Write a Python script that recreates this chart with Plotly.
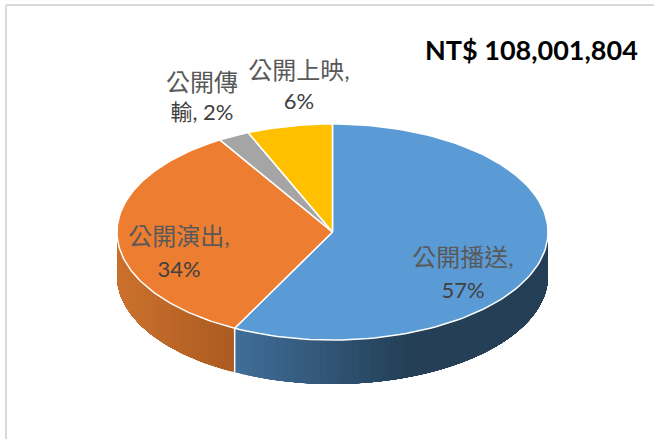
import numpy as np
import plotly.graph_objects as go

# --- data ---
categories = ["公開播送", "公開演出", "公開傳輸", "公開上映"]
shares = [57.5, 33.75, 2.35, 6.4]        # slice sweep, estimated from the drawn angles
shown_percent = [57, 34, 2, 6]           # percentages printed on the labels
total_text = "NT$ 108,001,804"

# --- styles and layout ---
top_colors = ["#5B9BD5", "#ED7D31", "#A5A5A5", "#FFC000"]
wall_ramps = {0: ((0x40, 0x6E, 0x98), (0x24, 0x3F, 0x56), 0.55),
              1: ((0xCC, 0x72, 0x2E), (0xAC, 0x5B, 0x22), 1.0)}
W, H = 654, 439
CX, CY, RX, RY, DEPTH = 332.5, 232.0, 215.5, 108.0, 44.0
CJK_GREY, NUM_GREY = "#595959", "#404040"
CJK_SIZE, NUM_SIZE = 24, 22
FONT = "Lato, 'Noto Sans CJK TC', sans-serif"
label_lines = [
    (f"{categories[0]},", 463, 260, CJK_GREY, CJK_SIZE), (f"{shown_percent[0]}%", 463, 292, NUM_GREY, NUM_SIZE),
    (f"{categories[1]},", 179, 239, CJK_GREY, CJK_SIZE), (f"{shown_percent[1]}%", 179, 271, NUM_GREY, NUM_SIZE),
    (categories[2][:3], 202, 85, CJK_GREY, CJK_SIZE), (f"{categories[2][3]}, {shown_percent[2]}%", 202, 114, NUM_GREY, NUM_SIZE),
    (f"{categories[3]},", 299, 73, CJK_GREY, CJK_SIZE), (f"{shown_percent[3]}%", 299, 103, NUM_GREY, NUM_SIZE),
]


def rim(a0, a1, n=120):
    t = np.radians(np.linspace(a0, a1, n))
    return CX + RX * np.sin(t), CY - RY * np.cos(t)


fig = go.Figure()


def poly(x, y, fill, line=None, width=0.0):
    fig.add_trace(go.Scatter(
        x=list(x), y=list(y), mode="lines", fill="toself", fillcolor=fill,
        line=dict(color=line or fill, width=width), hoverinfo="skip", showlegend=False))


edges = np.concatenate([[0], np.cumsum(shares)]) / np.sum(shares) * 360

# side wall: painted as overlapping bands so no seams show between the colour steps
for i, (c0, c1, stop) in wall_ramps.items():
    a0, a1 = max(edges[i], 90), min(edges[i + 1], 270)
    steps = np.linspace(a0, a1, 70)
    lo, hi = sorted((CX + RX * np.sin(np.radians(a0)), CX + RX * np.sin(np.radians(a1))))
    order = steps[::-1] if i == 0 else steps
    for s in order[:-1]:
        xr, yr = rim(a0, s, 100) if i == 0 else rim(s, a1, 100)
        f = (CX + RX * np.sin(np.radians(s)) - lo) / (hi - lo)
        f = min(f / stop, 1)
        col = "rgb(%d,%d,%d)" % tuple(int(a + (b - a) * f) for a, b in zip(c0, c1))
        poly(np.r_[xr, xr[::-1]], np.r_[yr, yr[::-1] + DEPTH], col)

# white divider on the wall where the two visible slices meet
bx, by = rim(edges[1], edges[1], 1)
fig.add_trace(go.Scatter(x=[bx[0], bx[0]], y=[by[0], by[0] + DEPTH], mode="lines",
                         line=dict(color="white", width=1.5), hoverinfo="skip", showlegend=False))

# top face
for i, col in enumerate(top_colors):
    xr, yr = rim(edges[i], edges[i + 1])
    poly(np.r_[CX, xr, CX], np.r_[CY, yr, CY], col, "white", 1.5)

# printed labels
fig.add_trace(go.Scatter(
    x=[l[1] for l in label_lines], y=[l[2] for l in label_lines],
    text=[l[0] for l in label_lines], mode="text", textposition="middle center",
    textfont=dict(family=FONT, size=[l[4] for l in label_lines], color=[l[3] for l in label_lines]),
    hoverinfo="skip", showlegend=False))

fig.add_annotation(x=531, y=49, text=f"<b>{total_text}</b>", showarrow=False,
                   font=dict(family=FONT, size=27, color="black"))

# chart frame: top and left edges only
fig.add_shape(type="line", x0=6, x1=W, y0=5, y1=5, line=dict(color="#D9D9D9", width=2))
fig.add_shape(type="line", x0=6, x1=6, y0=5, y1=H, line=dict(color="#D9D9D9", width=2))

fig.update_layout(
    width=W, height=H, margin=dict(l=0, r=0, t=0, b=0),
    paper_bgcolor="white", plot_bgcolor="white", showlegend=False,
    xaxis=dict(range=[0, W], visible=False, fixedrange=True),
    yaxis=dict(range=[H, 0], visible=False, fixedrange=True),
)
fig.write_html("out.html", config={"displayModeBar": False},
               post_script="document.body.style.margin='0';document.body.style.overflow='hidden';")
